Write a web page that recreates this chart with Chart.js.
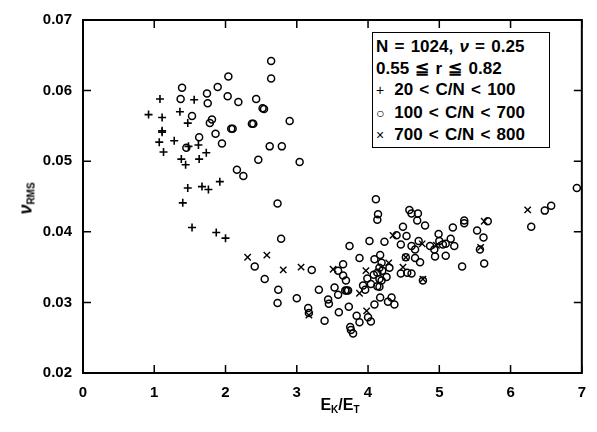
<!DOCTYPE html>
<html>
<head>
<meta charset="utf-8">
<script src="https://cdn.jsdelivr.net/npm/chart.js@4/dist/chart.umd.min.js"></script>
<style>
  body { margin: 0; background: #fff; }
  #wrap { position: relative; width: 597px; height: 432px; }
  .lbl { position: absolute; font-family: "Liberation Sans", Arial, sans-serif; font-weight: bold; color: #000; }
  #legend {
    position: absolute; left: 372px; top: 32px; width: 178px; height: 116px;
    border: 1.5px solid #000; background: #fff; padding: 3px 0 0 3px; box-sizing: border-box;
    font-family: "Liberation Sans", Arial, sans-serif; font-weight: bold; font-size: 17px;
    line-height: 21.5px; word-spacing: 1.5px; white-space: nowrap;
  }
  #legend .sym { font-weight: normal; font-size: 14px; display: inline-block; width: 12px; }
  #ytitle { left: 6px; top: 188px; width: 40px; text-align: center; font-size: 18px; transform: rotate(-90deg); }
  #xtitle { left: 300px; top: 396px; width: 80px; text-align: center; font-size: 16px; }
  sub { font-size: 10px; vertical-align: -3px; }
</style>
</head>
<body>
<div id="wrap">
  <canvas id="chart"></canvas>
  <div id="legend">
    <div>N = 1024, <i>ν</i> = 0.25</div>
    <div>0.55 ≦ r ≦ 0.82</div>
    <div><span class="sym">+</span> 20 &lt; C/N &lt; 100</div>
    <div><span class="sym">○</span> 100 &lt; C/N &lt; 700</div>
    <div><span class="sym">×</span> 700 &lt; C/N &lt; 800</div>
  </div>
  <div id="ytitle" class="lbl"><i>ν</i><sub>RMS</sub></div>
  <div id="xtitle" class="lbl">E<sub>K</sub>/E<sub>T</sub></div>
</div>
<script>
// E_K/E_T vs ν_RMS scatter

// ============================================
// 데이터 (값은 그림에서 읽음)
// ============================================

const xTicks = [0, 1, 2, 3, 4, 5, 6, 7];
const yTicks = [0.02, 0.03, 0.04, 0.05, 0.06, 0.07];

// + 20 < C/N < 100
const plusPoints = [
  [1.08, 0.0588], [1.56, 0.0587], [0.92, 0.0566], [1.11, 0.0562], [1.36, 0.0570],
  [1.47, 0.0554], [1.11, 0.0543], [1.11, 0.0541], [1.07, 0.0527], [1.28, 0.0529],
  [1.48, 0.0521], [1.62, 0.0523], [1.13, 0.0513], [1.73, 0.0512], [1.63, 0.0503],
  [1.38, 0.0503], [1.44, 0.0495], [1.92, 0.0471], [1.47, 0.0462], [1.67, 0.0464],
  [1.76, 0.0460], [1.40, 0.0441], [1.53, 0.0406], [1.87, 0.0399], [2.00, 0.0391]
];

// o 100 < C/N < 700
const circlePoints = [
  [2.64, 0.0642], [2.64, 0.0617], [2.04, 0.0620], [1.89, 0.0605], [1.39, 0.0604],
  [1.74, 0.0596], [1.37, 0.0588], [1.75, 0.0582], [2.03, 0.0592], [2.18, 0.0584],
  [2.43, 0.0588], [2.52, 0.0575], [2.54, 0.0574], [1.53, 0.0564], [1.81, 0.0559],
  [1.78, 0.0554], [2.08, 0.0546], [2.10, 0.0546], [2.37, 0.0553], [2.39, 0.0553],
  [2.90, 0.0557], [1.86, 0.0539], [1.63, 0.0534], [1.95, 0.0525], [1.45, 0.0519],
  [2.62, 0.0521], [2.79, 0.0521], [2.46, 0.0502], [3.04, 0.0499], [2.16, 0.0488],
  [2.25, 0.0479],
  [2.73, 0.0440], [2.78, 0.0390], [2.41, 0.0351], [2.55, 0.0333], [2.74, 0.0318],
  [2.73, 0.0299], [3.00, 0.0306],
  [4.11, 0.0446], [4.14, 0.0425], [4.13, 0.0417], [4.58, 0.0431], [4.61, 0.0426],
  [4.70, 0.0426], [4.69, 0.0416], [4.80, 0.0409], [4.49, 0.0407], [4.40, 0.0395],
  [4.54, 0.0394], [4.23, 0.0386], [4.02, 0.0387], [3.74, 0.0380], [4.46, 0.0382],
  [4.61, 0.0380], [4.66, 0.0375], [4.71, 0.0387], [4.87, 0.0380], [4.93, 0.0375],
  [4.99, 0.0397], [5.00, 0.0387], [5.05, 0.0382], [5.09, 0.0383], [5.16, 0.0390],
  [5.21, 0.0380], [5.19, 0.0406], [5.35, 0.0416], [5.35, 0.0412], [5.53, 0.0402],
  [5.62, 0.0392], [5.68, 0.0415], [5.09, 0.0366], [4.94, 0.0365], [5.32, 0.0351],
  [5.57, 0.0375], [5.63, 0.0355], [6.48, 0.0430], [6.57, 0.0437], [6.29, 0.0407],
  [6.93, 0.0462],
  [3.21, 0.0346], [3.58, 0.0345], [3.65, 0.0354], [3.65, 0.0338], [3.69, 0.0331],
  [3.88, 0.0363], [3.99, 0.0334], [4.09, 0.0361], [4.17, 0.0367], [4.19, 0.0356],
  [4.16, 0.0349], [4.30, 0.0349], [4.13, 0.0342], [4.08, 0.0339], [4.26, 0.0336],
  [4.20, 0.0345], [4.53, 0.0364], [4.55, 0.0342], [4.66, 0.0363], [4.73, 0.0357],
  [4.46, 0.0341], [4.61, 0.0341], [4.77, 0.0331],
  [3.31, 0.0318], [3.53, 0.0321], [3.58, 0.0311], [3.68, 0.0317], [3.70, 0.0317],
  [3.72, 0.0317], [3.93, 0.0324], [3.96, 0.0318], [4.04, 0.0326], [4.13, 0.0323],
  [4.16, 0.0322], [4.16, 0.0333], [4.19, 0.0331], [4.17, 0.0307], [4.28, 0.0301],
  [4.33, 0.0307], [4.37, 0.0297], [3.44, 0.0304], [3.45, 0.0298], [3.73, 0.0294],
  [3.59, 0.0286], [3.16, 0.0292], [3.17, 0.0285], [3.39, 0.0274], [3.84, 0.0281],
  [3.88, 0.0272], [4.00, 0.0279], [4.04, 0.0273], [4.09, 0.0297], [3.75, 0.0265],
  [3.76, 0.0261], [3.79, 0.0256]
];

// x 700 < C/N < 800
const crossPoints = [
  [2.31, 0.0364], [2.58, 0.0367], [2.81, 0.0346], [3.06, 0.0350], [3.51, 0.0347],
  [3.97, 0.0345], [3.88, 0.0313], [3.98, 0.0288], [3.17, 0.0282], [4.35, 0.0395],
  [4.29, 0.0356], [4.49, 0.0350], [4.53, 0.0364], [4.76, 0.0383], [4.96, 0.0381],
  [4.77, 0.0333], [5.58, 0.0378], [5.63, 0.0415], [6.24, 0.0431]
];

const toXY = pts => pts.map(p => ({ x: p[0], y: p[1] }));

// ============================================
// 안쪽 눈금 + 테두리
// ============================================

const frameTicks = {
  id: 'frameTicks',
  afterDraw(chart) {
    const { ctx, chartArea: a, scales } = chart;
    const len = 8;
    ctx.save();
    ctx.strokeStyle = '#000';
    ctx.lineWidth = 2;
    ctx.strokeRect(a.left, a.top, a.right - a.left, a.bottom - a.top);
    ctx.lineWidth = 1.5;
    ctx.beginPath();
    xTicks.forEach(v => {
      const px = scales.x.getPixelForValue(v);
      ctx.moveTo(px, a.bottom); ctx.lineTo(px, a.bottom - len);
      ctx.moveTo(px, a.top); ctx.lineTo(px, a.top + len);
    });
    yTicks.forEach(v => {
      const py = scales.y.getPixelForValue(v);
      ctx.moveTo(a.left, py); ctx.lineTo(a.left + len, py);
      ctx.moveTo(a.right, py); ctx.lineTo(a.right - len, py);
    });
    ctx.stroke();
    ctx.restore();
  }
};

// ============================================
// 차트
// ============================================

const tickFont = { family: '"Liberation Sans", Arial, sans-serif', size: 15, weight: 'bold' };

new Chart(document.getElementById('chart'), {
  type: 'scatter',
  data: {
    datasets: [
      {
        label: '20 < C/N < 100',
        data: toXY(plusPoints),
        pointStyle: 'cross',
        pointRadius: 4,
        borderColor: '#000',
        borderWidth: 1.6
      },
      {
        label: '100 < C/N < 700',
        data: toXY(circlePoints),
        pointStyle: 'circle',
        pointRadius: 3.5,
        borderColor: '#000',
        backgroundColor: 'rgba(0,0,0,0)',
        borderWidth: 1.5
      },
      {
        label: '700 < C/N < 800',
        data: toXY(crossPoints),
        pointStyle: 'crossRot',
        pointRadius: 4.5,
        borderColor: '#000',
        borderWidth: 1.4
      }
    ]
  },
  options: {
    responsive: true,
    maintainAspectRatio: false,
    animation: false,
    layout: { padding: { top: 10, right: 10, left: 0, bottom: 0 } },
    plugins: {
      legend: { display: false },
      tooltip: { enabled: false }
    },
    scales: {
      x: {
        type: 'linear',
        min: 0,
        max: 7,
        afterBuildTicks: s => { s.ticks = xTicks.map(v => ({ value: v })); },
        afterFit: s => { s.height = 59; },
        grid: { display: false, drawTicks: false },
        border: { display: false },
        ticks: { color: '#000', font: tickFont, padding: 11, callback: v => String(v) }
      },
      y: {
        type: 'linear',
        min: 0.02,
        max: 0.07,
        afterBuildTicks: s => { s.ticks = yTicks.map(v => ({ value: v })); },
        afterFit: s => { s.width = 83; },
        grid: { display: false, drawTicks: false },
        border: { display: false },
        ticks: { color: '#000', font: tickFont, padding: 11, callback: v => v.toFixed(2) }
      }
    }
  },
  plugins: [frameTicks]
});
</script>
</body>
</html>
